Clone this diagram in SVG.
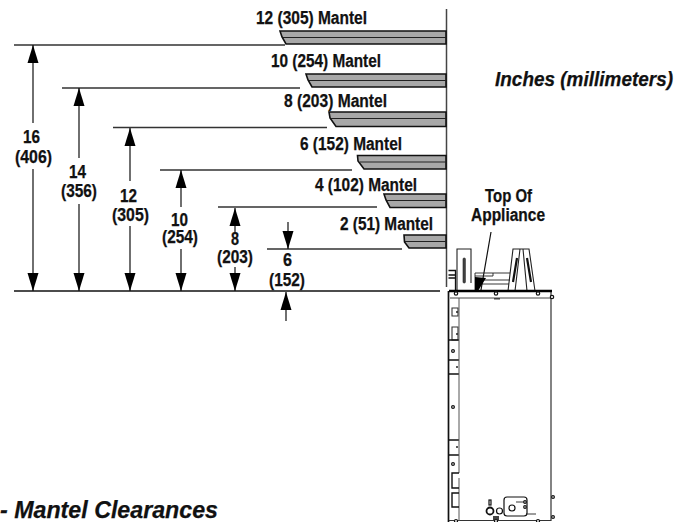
<svg xmlns="http://www.w3.org/2000/svg" width="682" height="522" viewBox="0 0 682 522">
<style>
text{font-family:"Liberation Sans",Arial,sans-serif;font-weight:700;font-size:17.5px;fill:#111;stroke:#111;stroke-width:.25}
.i{font-style:italic;font-size:20px}
.mantel{fill:#a8a8a8;stroke:#111;stroke-width:1.6}
.mid{stroke:#222;stroke-width:1.2;fill:none}
.l{stroke:#333;stroke-width:1.4;fill:none}
.v{stroke:#111;stroke-width:1.2;fill:none}
.ap{fill:none;stroke:#222;stroke-width:.9}
.ap2{fill:none;stroke:#111;stroke-width:1.7}
.o{fill:#fff;stroke:#111;stroke-width:1.2}
</style>
<defs>
<polygon id="dn" points="-5.5,-18 5.5,-18 0,0" fill="#000"/>
<polygon id="up" points="-5.5,18 5.5,18 0,0" fill="#000"/>
</defs>
<g id="connectors">
<path class="l" d="M14 45H285M62 88H300M113 127.500H327M160 170H352M218 207H377M267 249H402"/>
<path d="M14 291H440" stroke="#111" stroke-width="1.4" fill="none"/>
<path d="M446.500 9V287" stroke="#444" stroke-width="1.5" fill="none"/>
<path class="v" d="M33 45V123M33 169V291M79 88V158M79 204V291M130 128V181M130 226V291M181 170V207M181 249V291M235 208V232M235 267V291M288 222V249M286 292V321M481 290L491 232"/>
<use href="#up" x="33" y="45"/><use href="#dn" x="33" y="291"/>
<use href="#up" x="79" y="88"/><use href="#dn" x="79" y="291"/>
<use href="#up" x="130" y="128"/><use href="#dn" x="130" y="291"/>
<use href="#up" x="181" y="170"/><use href="#dn" x="181" y="291"/>
<use href="#up" x="235" y="208"/><use href="#dn" x="235" y="291"/>
<use href="#dn" x="288" y="249"/><use href="#up" x="286" y="292"/>
</g>
<g id="mantel-12"><path class="mantel" d="M446 31H280L282 37L286 44H446Z"/><path class="mid" d="M283 37.500H446"/><text x="256" y="24" textLength="111" lengthAdjust="spacingAndGlyphs">12 (305) Mantel</text></g>
<g id="mantel-10"><path class="mantel" d="M446 74H306L308 80L312 87H446Z"/><path class="mid" d="M309 80.500H446"/><text x="271" y="67" textLength="110" lengthAdjust="spacingAndGlyphs">10 (254) Mantel</text></g>
<g id="mantel-8"><path class="mantel" d="M446 112H329L330 118L336 126.500H446Z"/><path class="mid" d="M331 118.500H446"/><text x="284" y="107" textLength="103" lengthAdjust="spacingAndGlyphs">8 (203) Mantel</text></g>
<g id="mantel-6"><path class="mantel" d="M446 155.500H357.500L358 161L364 169H446Z"/><path class="mid" d="M360 162H446"/><text x="300" y="150" textLength="102" lengthAdjust="spacingAndGlyphs">6 (152) Mantel</text></g>
<g id="mantel-4"><path class="mantel" d="M446 194H384L386 200L390 207.500H446Z"/><path class="mid" d="M387 200.500H446"/><text x="315" y="191" textLength="102" lengthAdjust="spacingAndGlyphs">4 (102) Mantel</text></g>
<g id="mantel-2"><path class="mantel" d="M446 235H404L404.500 242L409 248H446Z"/><path class="mid" d="M405 241.500H446"/><text x="340" y="230" textLength="93" lengthAdjust="spacingAndGlyphs">2 (51) Mantel</text></g>
<g id="dim-16"><text x="23" y="143" textLength="17" lengthAdjust="spacingAndGlyphs">16</text><text x="15" y="163" textLength="37" lengthAdjust="spacingAndGlyphs">(406)</text></g>
<g id="dim-14"><text x="69" y="178" textLength="17" lengthAdjust="spacingAndGlyphs">14</text><text x="61" y="197" textLength="36" lengthAdjust="spacingAndGlyphs">(356)</text></g>
<g id="dim-12"><text x="120" y="202" textLength="17" lengthAdjust="spacingAndGlyphs">12</text><text x="112" y="221" textLength="37" lengthAdjust="spacingAndGlyphs">(305)</text></g>
<g id="dim-10"><text x="171" y="226" textLength="17" lengthAdjust="spacingAndGlyphs">10</text><text x="162" y="243" textLength="36" lengthAdjust="spacingAndGlyphs">(254)</text></g>
<g id="dim-8"><text x="231" y="245" textLength="8" lengthAdjust="spacingAndGlyphs">8</text><text x="217" y="263" textLength="36" lengthAdjust="spacingAndGlyphs">(203)</text></g>
<g id="dim-6"><text x="283" y="266" textLength="9" lengthAdjust="spacingAndGlyphs">6</text><text x="269" y="286" textLength="36" lengthAdjust="spacingAndGlyphs">(152)</text></g>
<g id="label-top"><text x="485" y="202" textLength="47" lengthAdjust="spacingAndGlyphs">Top Of</text><text x="471" y="221" textLength="74" lengthAdjust="spacingAndGlyphs">Appliance</text></g>
<g id="label-units"><text class="i" x="495" y="86" textLength="178" lengthAdjust="spacingAndGlyphs">Inches (millimeters)</text></g>
<g id="caption"><text class="i" x="0" y="518" textLength="218" lengthAdjust="spacingAndGlyphs" style="font-size:24px">- Mantel Clearances</text></g>
<g id="appliance">
<path class="ap2" d="M448.500 291V522"/>
<path d="M551 291V521M449 520.500H551" stroke="#333" stroke-width="1.2" fill="none"/>
<path d="M450 298H551" stroke="#444" stroke-width="1" fill="none"/>
<path d="M457 290V249H471V283" fill="none" stroke="#222" stroke-width="1.1"/>
<rect x="463" y="258" width="2.400" height="25" rx="1" fill="#444" stroke="#222" stroke-width=".6"/>
<path d="M448.500 270.500H455.500V290M448.500 275H455.500M448.500 278H455.500" fill="none" stroke="#111" stroke-width="1.3"/>
<path class="ap" d="M475 291V273H493V276H475M476 280H510M480 284H509M493 273H510"/>
<path d="M475 277L486 278L478 291H475Z" fill="#000"/>
<path d="M508 291L513 249H529L535 291M515 291L520 249M523 249L527 291" fill="none" stroke="#222" stroke-width="1.1"/>
<path d="M517 258L513 282M527 258L531 282" fill="none" stroke="#111" stroke-width="2.200"/>
<path d="M449 291H552" stroke="#000" stroke-width="2.400"/>
<circle class="o" cx="456" cy="293.500" r="1.700"/><circle class="o" cx="496" cy="293.500" r="1.700"/><circle class="o" cx="538" cy="293.500" r="1.700"/><circle class="o" cx="552" cy="297" r="1.700"/>
<rect x="494" y="298" width="6" height="1.500" fill="#444"/>
<path d="M452 308H458V316H452ZM452 327H458V340H452Z" fill="none" stroke="#333" stroke-width="1.1"/>
<path class="ap2" d="M449 340H459M449 360H459M449 374H459M449 440H459M449 455H459"/>
<path d="M459 298V473M459 478V521" stroke="#555" stroke-width="1" fill="none"/>
<circle cx="457" cy="312" r="1" fill="#222"/><circle cx="457" cy="334" r="1" fill="#222"/><circle cx="457" cy="367" r="1" fill="#222"/><circle cx="457" cy="447" r="1" fill="#222"/>
<circle class="o" cx="453" cy="351" r="1.400"/><circle class="o" cx="453" cy="407" r="1.400"/><circle class="o" cx="453" cy="464" r="1.400"/>
<path d="M459 473H452V488H459M459 493H452V507H459" fill="none" stroke="#111" stroke-width="1.400"/>
<circle cx="490" cy="511" r="3.500" fill="#fff" stroke="#111" stroke-width="1.800"/><circle class="o" cx="499.500" cy="511" r="3"/><rect class="o" x="489" y="500" width="2" height="5"/>
<rect x="493" y="516" width="6" height="4" fill="#444"/>
<rect class="o" x="504" y="497" width="23" height="19" rx="3"/><circle class="o" cx="512" cy="508" r="3"/>
<path class="ap" d="M516 502H527M526 514H536"/>
<circle class="o" cx="525" cy="502" r="1.300"/><circle class="o" cx="525" cy="507" r="1.300"/>
<circle class="o" cx="553" cy="497" r="1.400"/><circle class="o" cx="553" cy="517" r="1.400"/>
<circle class="o" cx="456" cy="521" r="1.500"/><circle class="o" cx="496" cy="521" r="1.500"/><circle class="o" cx="538" cy="521" r="1.500"/>
</g>
</svg>
